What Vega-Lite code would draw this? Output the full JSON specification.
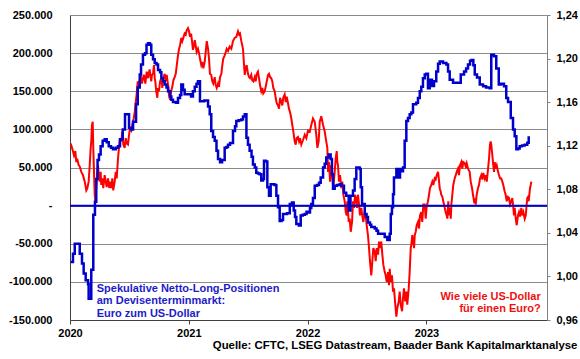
{
"$schema": "https://vega.github.io/schema/vega-lite/v6.json",
"width": 477, "height": 305,
"autosize": {"type": "none"},
"padding": {"left": 70, "top": 15, "right": 33, "bottom": 39},
"background": "white",
"config": {
 "locale": {"number": {"decimal": ",", "thousands": ".", "grouping": [3], "currency": ["", " €"], "minus": "-"}},
 "font": "Liberation Sans",
 "view": {"stroke": null},
 "axis": {"labelFont": "Liberation Sans", "labelFontWeight": "bold", "labelFontSize": 11, "labelColor": "#000000", "domainColor": "#555555", "tickColor": "#555555", "gridColor": "#8a8a8a", "gridWidth": 1}
},
"title": {"text": "Quelle: CFTC, LSEG Datastream, Baader Bank Kapitalmarktanalyse", "orient": "bottom", "anchor": "end", "frame": "bounds", "fontSize": 11.4, "fontWeight": "bold", "font": "Liberation Sans", "color": "#000000", "offset": 2},
"datasets": {
 "cot": [
{"year":2020.006,"netlong":-74000},{"year":2020.025,"netlong":-63000},{"year":2020.040,"netlong":-50000},{"year":2020.067,"netlong":-50000},{"year":2020.082,"netlong":-63000},{"year":2020.101,"netlong":-76000},{"year":2020.115,"netlong":-89000},{"year":2020.132,"netlong":-98000},{"year":2020.152,"netlong":-103000},{"year":2020.157,"netlong":-122000},{"year":2020.179,"netlong":-84000},{"year":2020.196,"netlong":-12000},{"year":2020.210,"netlong":5000},{"year":2020.221,"netlong":35000},{"year":2020.232,"netlong":60000},{"year":2020.244,"netlong":67000},{"year":2020.258,"netlong":78000},{"year":2020.275,"netlong":85000},{"year":2020.292,"netlong":87000},{"year":2020.309,"netlong":83000},{"year":2020.326,"netlong":78000},{"year":2020.345,"netlong":76000},{"year":2020.362,"netlong":74000},{"year":2020.385,"netlong":76000},{"year":2020.404,"netlong":78000},{"year":2020.421,"netlong":87000},{"year":2020.444,"netlong":100000},{"year":2020.463,"netlong":120000},{"year":2020.497,"netlong":102000},{"year":2020.514,"netlong":100000},{"year":2020.531,"netlong":110000},{"year":2020.556,"netlong":133000},{"year":2020.570,"netlong":155000},{"year":2020.587,"netlong":172000},{"year":2020.598,"netlong":185000},{"year":2020.614,"netlong":198000},{"year":2020.631,"netlong":200000},{"year":2020.644,"netlong":211000},{"year":2020.657,"netlong":213000},{"year":2020.673,"netlong":211000},{"year":2020.684,"netlong":198000},{"year":2020.699,"netlong":192000},{"year":2020.713,"netlong":187000},{"year":2020.728,"netlong":185000},{"year":2020.741,"netlong":178000},{"year":2020.758,"netlong":175000},{"year":2020.769,"netlong":167000},{"year":2020.783,"netlong":163000},{"year":2020.797,"netlong":159000},{"year":2020.812,"netlong":155000},{"year":2020.825,"netlong":150000},{"year":2020.842,"netlong":143000},{"year":2020.853,"netlong":139000},{"year":2020.867,"netlong":136000},{"year":2020.892,"netlong":135000},{"year":2020.909,"netlong":141000},{"year":2020.926,"netlong":145000},{"year":2020.937,"netlong":159000},{"year":2020.951,"netlong":152000},{"year":2020.965,"netlong":146000},{"year":2020.993,"netlong":146000},{"year":2021.019,"netlong":143000},{"year":2021.035,"netlong":150000},{"year":2021.050,"netlong":156000},{"year":2021.065,"netlong":160000},{"year":2021.077,"netlong":163000},{"year":2021.094,"netlong":137000},{"year":2021.114,"netlong":137000},{"year":2021.130,"netlong":138000},{"year":2021.162,"netlong":130000},{"year":2021.176,"netlong":120000},{"year":2021.189,"netlong":98000},{"year":2021.204,"netlong":90000},{"year":2021.218,"netlong":85000},{"year":2021.233,"netlong":72000},{"year":2021.246,"netlong":61000},{"year":2021.263,"netlong":57000},{"year":2021.280,"netlong":60000},{"year":2021.302,"netlong":76000},{"year":2021.317,"netlong":77000},{"year":2021.330,"netlong":80000},{"year":2021.347,"netlong":82000},{"year":2021.372,"netlong":98000},{"year":2021.389,"netlong":104000},{"year":2021.400,"netlong":111000},{"year":2021.419,"netlong":112000},{"year":2021.442,"netlong":113000},{"year":2021.456,"netlong":117000},{"year":2021.471,"netlong":120000},{"year":2021.485,"netlong":89000},{"year":2021.498,"netlong":80000},{"year":2021.512,"netlong":72000},{"year":2021.528,"netlong":64000},{"year":2021.540,"netlong":54000},{"year":2021.555,"netlong":50000},{"year":2021.568,"netlong":43000},{"year":2021.582,"netlong":42000},{"year":2021.596,"netlong":41000},{"year":2021.610,"netlong":33000},{"year":2021.624,"netlong":35000},{"year":2021.633,"netlong":59000},{"year":2021.647,"netlong":58000},{"year":2021.661,"netlong":24000},{"year":2021.675,"netlong":13000},{"year":2021.689,"netlong":28000},{"year":2021.705,"netlong":28000},{"year":2021.721,"netlong":27000},{"year":2021.737,"netlong":13000},{"year":2021.751,"netlong":-2000},{"year":2021.765,"netlong":-20000},{"year":2021.780,"netlong":-19000},{"year":2021.793,"netlong":-11000},{"year":2021.810,"netlong":-11000},{"year":2021.827,"netlong":-10000},{"year":2021.850,"netlong":2000},{"year":2021.869,"netlong":4000},{"year":2021.883,"netlong":-6500},{"year":2021.894,"netlong":-15000},{"year":2021.905,"netlong":-24000},{"year":2021.926,"netlong":-26000},{"year":2021.942,"netlong":-13000},{"year":2021.959,"netlong":-12000},{"year":2021.976,"netlong":-11000},{"year":2021.991,"netlong":-8000},{"year":2022.003,"netlong":-9000},{"year":2022.020,"netlong":-3000},{"year":2022.031,"netlong":2000},{"year":2022.045,"netlong":10000},{"year":2022.060,"netlong":26000},{"year":2022.079,"netlong":27000},{"year":2022.096,"netlong":30000},{"year":2022.110,"netlong":37000},{"year":2022.130,"netlong":50000},{"year":2022.144,"netlong":55000},{"year":2022.157,"netlong":63000},{"year":2022.178,"netlong":67000},{"year":2022.194,"netlong":61000},{"year":2022.205,"netlong":41000},{"year":2022.214,"netlong":22000},{"year":2022.228,"netlong":26000},{"year":2022.247,"netlong":27000},{"year":2022.270,"netlong":28000},{"year":2022.285,"netlong":26000},{"year":2022.306,"netlong":17000},{"year":2022.325,"netlong":13000},{"year":2022.346,"netlong":-6500},{"year":2022.361,"netlong":13000},{"year":2022.382,"netlong":20000},{"year":2022.396,"netlong":35000},{"year":2022.410,"netlong":50000},{"year":2022.424,"netlong":50000},{"year":2022.438,"netlong":48000},{"year":2022.447,"netlong":24000},{"year":2022.458,"netlong":2000},{"year":2022.481,"netlong":-11000},{"year":2022.496,"netlong":-15000},{"year":2022.508,"netlong":-22000},{"year":2022.525,"netlong":-25000},{"year":2022.536,"netlong":-28000},{"year":2022.551,"netlong":-28000},{"year":2022.565,"netlong":-30000},{"year":2022.580,"netlong":-33000},{"year":2022.593,"netlong":-37000},{"year":2022.618,"netlong":-37000},{"year":2022.649,"netlong":-41000},{"year":2022.671,"netlong":-45000},{"year":2022.691,"netlong":-37000},{"year":2022.700,"netlong":-11000},{"year":2022.710,"netlong":-2000},{"year":2022.719,"netlong":15000},{"year":2022.727,"netlong":37000},{"year":2022.747,"netlong":48000},{"year":2022.765,"netlong":37000},{"year":2022.778,"netlong":48000},{"year":2022.790,"netlong":45000},{"year":2022.803,"netlong":50000},{"year":2022.817,"netlong":85000},{"year":2022.831,"netlong":111000},{"year":2022.845,"netlong":115000},{"year":2022.859,"netlong":120000},{"year":2022.873,"netlong":122000},{"year":2022.887,"netlong":133000},{"year":2022.915,"netlong":135000},{"year":2022.929,"netlong":141000},{"year":2022.944,"netlong":150000},{"year":2022.957,"netlong":156000},{"year":2022.971,"netlong":167000},{"year":2022.986,"netlong":172000},{"year":2022.999,"netlong":173000},{"year":2023.013,"netlong":154000},{"year":2023.028,"netlong":165000},{"year":2023.047,"netlong":157000},{"year":2023.064,"netlong":163000},{"year":2023.083,"netlong":176000},{"year":2023.098,"netlong":186000},{"year":2023.112,"netlong":189000},{"year":2023.140,"netlong":187000},{"year":2023.168,"netlong":185000},{"year":2023.182,"netlong":176000},{"year":2023.196,"netlong":165000},{"year":2023.224,"netlong":161000},{"year":2023.275,"netlong":161000},{"year":2023.289,"netlong":172000},{"year":2023.317,"netlong":176000},{"year":2023.334,"netlong":180000},{"year":2023.350,"netlong":185000},{"year":2023.367,"netlong":190000},{"year":2023.381,"netlong":191000},{"year":2023.395,"netlong":184000},{"year":2023.407,"netlong":172000},{"year":2023.426,"netlong":168000},{"year":2023.449,"netlong":159000},{"year":2023.477,"netlong":156500},{"year":2023.502,"netlong":155000},{"year":2023.533,"netlong":154000},{"year":2023.546,"netlong":198000},{"year":2023.569,"netlong":196000},{"year":2023.588,"netlong":180000},{"year":2023.609,"netlong":159000},{"year":2023.628,"netlong":160000},{"year":2023.653,"netlong":156500},{"year":2023.672,"netlong":141000},{"year":2023.687,"netlong":136000},{"year":2023.710,"netlong":115000},{"year":2023.729,"netlong":100000},{"year":2023.743,"netlong":91000},{"year":2023.757,"netlong":74000},{"year":2023.771,"netlong":75000},{"year":2023.785,"netlong":78000},{"year":2023.805,"netlong":79000},{"year":2023.827,"netlong":80000},{"year":2023.849,"netlong":82600},{"year":2023.861,"netlong":91000}
 ],
 "fx": [
{"year":2020.006,"eurusd":1.122},{"year":2020.017,"eurusd":1.118},{"year":2020.025,"eurusd":1.115},{"year":2020.034,"eurusd":1.111},{"year":2020.045,"eurusd":1.115},{"year":2020.053,"eurusd":1.105},{"year":2020.061,"eurusd":1.108},{"year":2020.073,"eurusd":1.102},{"year":2020.082,"eurusd":1.101},{"year":2020.095,"eurusd":1.096},{"year":2020.109,"eurusd":1.093},{"year":2020.124,"eurusd":1.087},{"year":2020.137,"eurusd":1.079},{"year":2020.146,"eurusd":1.081},{"year":2020.157,"eurusd":1.087},{"year":2020.166,"eurusd":1.102},{"year":2020.174,"eurusd":1.118},{"year":2020.179,"eurusd":1.124},{"year":2020.185,"eurusd":1.139},{"year":2020.191,"eurusd":1.142},{"year":2020.196,"eurusd":1.118},{"year":2020.202,"eurusd":1.096},{"year":2020.208,"eurusd":1.075},{"year":2020.213,"eurusd":1.069},{"year":2020.221,"eurusd":1.081},{"year":2020.230,"eurusd":1.096},{"year":2020.236,"eurusd":1.102},{"year":2020.242,"eurusd":1.093},{"year":2020.250,"eurusd":1.087},{"year":2020.258,"eurusd":1.096},{"year":2020.263,"eurusd":1.084},{"year":2020.272,"eurusd":1.090},{"year":2020.280,"eurusd":1.081},{"year":2020.292,"eurusd":1.093},{"year":2020.301,"eurusd":1.087},{"year":2020.309,"eurusd":1.082},{"year":2020.320,"eurusd":1.090},{"year":2020.331,"eurusd":1.081},{"year":2020.339,"eurusd":1.087},{"year":2020.348,"eurusd":1.081},{"year":2020.356,"eurusd":1.090},{"year":2020.364,"eurusd":1.079},{"year":2020.376,"eurusd":1.087},{"year":2020.385,"eurusd":1.096},{"year":2020.393,"eurusd":1.090},{"year":2020.404,"eurusd":1.108},{"year":2020.412,"eurusd":1.118},{"year":2020.421,"eurusd":1.127},{"year":2020.432,"eurusd":1.124},{"year":2020.440,"eurusd":1.133},{"year":2020.449,"eurusd":1.121},{"year":2020.460,"eurusd":1.118},{"year":2020.469,"eurusd":1.127},{"year":2020.477,"eurusd":1.122},{"year":2020.488,"eurusd":1.121},{"year":2020.497,"eurusd":1.130},{"year":2020.505,"eurusd":1.136},{"year":2020.516,"eurusd":1.134},{"year":2020.524,"eurusd":1.139},{"year":2020.536,"eurusd":1.145},{"year":2020.545,"eurusd":1.151},{"year":2020.553,"eurusd":1.160},{"year":2020.561,"eurusd":1.167},{"year":2020.570,"eurusd":1.179},{"year":2020.578,"eurusd":1.176},{"year":2020.587,"eurusd":1.180},{"year":2020.595,"eurusd":1.185},{"year":2020.606,"eurusd":1.177},{"year":2020.614,"eurusd":1.182},{"year":2020.623,"eurusd":1.185},{"year":2020.634,"eurusd":1.177},{"year":2020.646,"eurusd":1.188},{"year":2020.657,"eurusd":1.182},{"year":2020.670,"eurusd":1.190},{"year":2020.684,"eurusd":1.179},{"year":2020.690,"eurusd":1.185},{"year":2020.699,"eurusd":1.186},{"year":2020.707,"eurusd":1.194},{"year":2020.713,"eurusd":1.182},{"year":2020.718,"eurusd":1.179},{"year":2020.726,"eurusd":1.170},{"year":2020.735,"eurusd":1.164},{"year":2020.741,"eurusd":1.173},{"year":2020.749,"eurusd":1.170},{"year":2020.758,"eurusd":1.179},{"year":2020.769,"eurusd":1.182},{"year":2020.777,"eurusd":1.173},{"year":2020.785,"eurusd":1.182},{"year":2020.797,"eurusd":1.186},{"year":2020.806,"eurusd":1.179},{"year":2020.814,"eurusd":1.185},{"year":2020.825,"eurusd":1.176},{"year":2020.833,"eurusd":1.167},{"year":2020.842,"eurusd":1.162},{"year":2020.853,"eurusd":1.171},{"year":2020.861,"eurusd":1.174},{"year":2020.870,"eurusd":1.180},{"year":2020.881,"eurusd":1.183},{"year":2020.890,"eurusd":1.186},{"year":2020.898,"eurusd":1.193},{"year":2020.909,"eurusd":1.203},{"year":2020.918,"eurusd":1.209},{"year":2020.926,"eurusd":1.212},{"year":2020.937,"eurusd":1.219},{"year":2020.945,"eurusd":1.216},{"year":2020.954,"eurusd":1.219},{"year":2020.965,"eurusd":1.223},{"year":2020.974,"eurusd":1.222},{"year":2020.982,"eurusd":1.226},{"year":2020.993,"eurusd":1.228},{"year":2021.002,"eurusd":1.225},{"year":2021.010,"eurusd":1.220},{"year":2021.019,"eurusd":1.223},{"year":2021.027,"eurusd":1.216},{"year":2021.035,"eurusd":1.208},{"year":2021.044,"eurusd":1.212},{"year":2021.050,"eurusd":1.217},{"year":2021.058,"eurusd":1.212},{"year":2021.066,"eurusd":1.206},{"year":2021.077,"eurusd":1.209},{"year":2021.086,"eurusd":1.205},{"year":2021.094,"eurusd":1.200},{"year":2021.105,"eurusd":1.194},{"year":2021.114,"eurusd":1.197},{"year":2021.122,"eurusd":1.191},{"year":2021.134,"eurusd":1.197},{"year":2021.142,"eurusd":1.206},{"year":2021.151,"eurusd":1.216},{"year":2021.162,"eurusd":1.209},{"year":2021.170,"eurusd":1.200},{"year":2021.178,"eurusd":1.186},{"year":2021.189,"eurusd":1.185},{"year":2021.198,"eurusd":1.179},{"year":2021.206,"eurusd":1.177},{"year":2021.218,"eurusd":1.183},{"year":2021.226,"eurusd":1.176},{"year":2021.235,"eurusd":1.173},{"year":2021.246,"eurusd":1.177},{"year":2021.254,"eurusd":1.174},{"year":2021.263,"eurusd":1.183},{"year":2021.274,"eurusd":1.186},{"year":2021.282,"eurusd":1.194},{"year":2021.290,"eurusd":1.200},{"year":2021.302,"eurusd":1.203},{"year":2021.311,"eurusd":1.206},{"year":2021.319,"eurusd":1.209},{"year":2021.330,"eurusd":1.207},{"year":2021.344,"eurusd":1.211},{"year":2021.358,"eurusd":1.209},{"year":2021.372,"eurusd":1.216},{"year":2021.386,"eurusd":1.219},{"year":2021.400,"eurusd":1.220},{"year":2021.414,"eurusd":1.225},{"year":2021.423,"eurusd":1.222},{"year":2021.431,"eurusd":1.223},{"year":2021.442,"eurusd":1.216},{"year":2021.456,"eurusd":1.209},{"year":2021.465,"eurusd":1.194},{"year":2021.471,"eurusd":1.185},{"year":2021.479,"eurusd":1.191},{"year":2021.487,"eurusd":1.194},{"year":2021.498,"eurusd":1.186},{"year":2021.507,"eurusd":1.183},{"year":2021.515,"eurusd":1.182},{"year":2021.526,"eurusd":1.185},{"year":2021.534,"eurusd":1.180},{"year":2021.543,"eurusd":1.179},{"year":2021.555,"eurusd":1.183},{"year":2021.563,"eurusd":1.179},{"year":2021.572,"eurusd":1.186},{"year":2021.582,"eurusd":1.188},{"year":2021.591,"eurusd":1.182},{"year":2021.599,"eurusd":1.176},{"year":2021.610,"eurusd":1.170},{"year":2021.619,"eurusd":1.173},{"year":2021.627,"eurusd":1.168},{"year":2021.639,"eurusd":1.170},{"year":2021.647,"eurusd":1.174},{"year":2021.656,"eurusd":1.179},{"year":2021.667,"eurusd":1.185},{"year":2021.675,"eurusd":1.186},{"year":2021.684,"eurusd":1.183},{"year":2021.694,"eurusd":1.182},{"year":2021.703,"eurusd":1.179},{"year":2021.711,"eurusd":1.173},{"year":2021.723,"eurusd":1.170},{"year":2021.731,"eurusd":1.164},{"year":2021.740,"eurusd":1.159},{"year":2021.751,"eurusd":1.157},{"year":2021.759,"eurusd":1.154},{"year":2021.768,"eurusd":1.164},{"year":2021.779,"eurusd":1.160},{"year":2021.787,"eurusd":1.157},{"year":2021.795,"eurusd":1.164},{"year":2021.807,"eurusd":1.167},{"year":2021.816,"eurusd":1.160},{"year":2021.824,"eurusd":1.165},{"year":2021.835,"eurusd":1.159},{"year":2021.843,"eurusd":1.154},{"year":2021.852,"eurusd":1.151},{"year":2021.863,"eurusd":1.145},{"year":2021.871,"eurusd":1.139},{"year":2021.880,"eurusd":1.133},{"year":2021.891,"eurusd":1.124},{"year":2021.900,"eurusd":1.121},{"year":2021.908,"eurusd":1.127},{"year":2021.919,"eurusd":1.128},{"year":2021.928,"eurusd":1.124},{"year":2021.936,"eurusd":1.127},{"year":2021.947,"eurusd":1.121},{"year":2021.961,"eurusd":1.125},{"year":2021.976,"eurusd":1.130},{"year":2021.989,"eurusd":1.127},{"year":2022.003,"eurusd":1.134},{"year":2022.018,"eurusd":1.133},{"year":2022.031,"eurusd":1.139},{"year":2022.045,"eurusd":1.145},{"year":2022.060,"eurusd":1.142},{"year":2022.073,"eurusd":1.130},{"year":2022.082,"eurusd":1.118},{"year":2022.093,"eurusd":1.124},{"year":2022.102,"eurusd":1.142},{"year":2022.115,"eurusd":1.147},{"year":2022.130,"eurusd":1.139},{"year":2022.144,"eurusd":1.133},{"year":2022.157,"eurusd":1.124},{"year":2022.166,"eurusd":1.118},{"year":2022.172,"eurusd":1.096},{"year":2022.180,"eurusd":1.105},{"year":2022.189,"eurusd":1.087},{"year":2022.199,"eurusd":1.102},{"year":2022.208,"eurusd":1.093},{"year":2022.216,"eurusd":1.081},{"year":2022.228,"eurusd":1.096},{"year":2022.236,"eurusd":1.108},{"year":2022.245,"eurusd":1.115},{"year":2022.250,"eurusd":1.105},{"year":2022.256,"eurusd":1.102},{"year":2022.264,"eurusd":1.087},{"year":2022.273,"eurusd":1.093},{"year":2022.284,"eurusd":1.081},{"year":2022.292,"eurusd":1.087},{"year":2022.301,"eurusd":1.075},{"year":2022.312,"eurusd":1.069},{"year":2022.321,"eurusd":1.059},{"year":2022.329,"eurusd":1.056},{"year":2022.334,"eurusd":1.069},{"year":2022.346,"eurusd":1.050},{"year":2022.354,"eurusd":1.053},{"year":2022.363,"eurusd":1.041},{"year":2022.374,"eurusd":1.050},{"year":2022.382,"eurusd":1.069},{"year":2022.391,"eurusd":1.063},{"year":2022.399,"eurusd":1.075},{"year":2022.407,"eurusd":1.072},{"year":2022.416,"eurusd":1.063},{"year":2022.424,"eurusd":1.075},{"year":2022.433,"eurusd":1.066},{"year":2022.441,"eurusd":1.056},{"year":2022.452,"eurusd":1.063},{"year":2022.460,"eurusd":1.056},{"year":2022.469,"eurusd":1.050},{"year":2022.481,"eurusd":1.059},{"year":2022.489,"eurusd":1.056},{"year":2022.497,"eurusd":1.047},{"year":2022.508,"eurusd":1.038},{"year":2022.517,"eurusd":1.026},{"year":2022.525,"eurusd":1.014},{"year":2022.536,"eurusd":1.001},{"year":2022.545,"eurusd":1.014},{"year":2022.553,"eurusd":1.026},{"year":2022.565,"eurusd":1.023},{"year":2022.573,"eurusd":1.014},{"year":2022.582,"eurusd":1.026},{"year":2022.593,"eurusd":1.020},{"year":2022.601,"eurusd":1.032},{"year":2022.609,"eurusd":1.026},{"year":2022.620,"eurusd":1.032},{"year":2022.629,"eurusd":1.020},{"year":2022.637,"eurusd":1.011},{"year":2022.649,"eurusd":1.004},{"year":2022.657,"eurusd":1.001},{"year":2022.666,"eurusd":0.995},{"year":2022.677,"eurusd":1.004},{"year":2022.685,"eurusd":0.992},{"year":2022.691,"eurusd":1.007},{"year":2022.700,"eurusd":0.995},{"year":2022.710,"eurusd":1.001},{"year":2022.719,"eurusd":0.986},{"year":2022.727,"eurusd":0.989},{"year":2022.738,"eurusd":0.974},{"year":2022.747,"eurusd":0.963},{"year":2022.755,"eurusd":0.971},{"year":2022.767,"eurusd":0.977},{"year":2022.775,"eurusd":0.986},{"year":2022.784,"eurusd":0.974},{"year":2022.795,"eurusd":0.968},{"year":2022.803,"eurusd":0.980},{"year":2022.811,"eurusd":0.989},{"year":2022.822,"eurusd":0.977},{"year":2022.831,"eurusd":0.986},{"year":2022.839,"eurusd":0.974},{"year":2022.851,"eurusd":0.989},{"year":2022.859,"eurusd":1.004},{"year":2022.868,"eurusd":1.026},{"year":2022.873,"eurusd":1.029},{"year":2022.881,"eurusd":1.038},{"year":2022.890,"eurusd":1.032},{"year":2022.896,"eurusd":1.026},{"year":2022.902,"eurusd":1.038},{"year":2022.910,"eurusd":1.041},{"year":2022.918,"eurusd":1.047},{"year":2022.929,"eurusd":1.050},{"year":2022.938,"eurusd":1.044},{"year":2022.946,"eurusd":1.056},{"year":2022.957,"eurusd":1.059},{"year":2022.965,"eurusd":1.050},{"year":2022.974,"eurusd":1.066},{"year":2022.986,"eurusd":1.066},{"year":2022.994,"eurusd":1.053},{"year":2023.002,"eurusd":1.064},{"year":2023.013,"eurusd":1.069},{"year":2023.022,"eurusd":1.075},{"year":2023.030,"eurusd":1.081},{"year":2023.041,"eurusd":1.084},{"year":2023.050,"eurusd":1.087},{"year":2023.058,"eurusd":1.084},{"year":2023.070,"eurusd":1.090},{"year":2023.078,"eurusd":1.089},{"year":2023.087,"eurusd":1.093},{"year":2023.098,"eurusd":1.096},{"year":2023.104,"eurusd":1.090},{"year":2023.112,"eurusd":1.081},{"year":2023.120,"eurusd":1.078},{"year":2023.125,"eurusd":1.075},{"year":2023.134,"eurusd":1.073},{"year":2023.142,"eurusd":1.069},{"year":2023.154,"eurusd":1.063},{"year":2023.162,"eurusd":1.059},{"year":2023.171,"eurusd":1.056},{"year":2023.176,"eurusd":1.053},{"year":2023.184,"eurusd":1.069},{"year":2023.190,"eurusd":1.056},{"year":2023.199,"eurusd":1.063},{"year":2023.205,"eurusd":1.053},{"year":2023.210,"eurusd":1.066},{"year":2023.218,"eurusd":1.075},{"year":2023.226,"eurusd":1.084},{"year":2023.238,"eurusd":1.090},{"year":2023.247,"eurusd":1.093},{"year":2023.255,"eurusd":1.096},{"year":2023.266,"eurusd":1.099},{"year":2023.274,"eurusd":1.093},{"year":2023.283,"eurusd":1.102},{"year":2023.294,"eurusd":1.105},{"year":2023.302,"eurusd":1.099},{"year":2023.310,"eurusd":1.105},{"year":2023.322,"eurusd":1.104},{"year":2023.331,"eurusd":1.101},{"year":2023.339,"eurusd":1.104},{"year":2023.350,"eurusd":1.099},{"year":2023.364,"eurusd":1.096},{"year":2023.373,"eurusd":1.087},{"year":2023.384,"eurusd":1.081},{"year":2023.392,"eurusd":1.075},{"year":2023.401,"eurusd":1.069},{"year":2023.407,"eurusd":1.070},{"year":2023.415,"eurusd":1.066},{"year":2023.423,"eurusd":1.075},{"year":2023.434,"eurusd":1.081},{"year":2023.443,"eurusd":1.084},{"year":2023.451,"eurusd":1.090},{"year":2023.462,"eurusd":1.093},{"year":2023.471,"eurusd":1.089},{"year":2023.479,"eurusd":1.095},{"year":2023.491,"eurusd":1.090},{"year":2023.499,"eurusd":1.093},{"year":2023.508,"eurusd":1.087},{"year":2023.519,"eurusd":1.099},{"year":2023.527,"eurusd":1.108},{"year":2023.535,"eurusd":1.121},{"year":2023.541,"eurusd":1.124},{"year":2023.546,"eurusd":1.121},{"year":2023.555,"eurusd":1.111},{"year":2023.563,"eurusd":1.102},{"year":2023.569,"eurusd":1.096},{"year":2023.575,"eurusd":1.105},{"year":2023.583,"eurusd":1.099},{"year":2023.592,"eurusd":1.102},{"year":2023.603,"eurusd":1.096},{"year":2023.611,"eurusd":1.093},{"year":2023.620,"eurusd":1.090},{"year":2023.630,"eurusd":1.090},{"year":2023.639,"eurusd":1.087},{"year":2023.647,"eurusd":1.084},{"year":2023.659,"eurusd":1.078},{"year":2023.667,"eurusd":1.075},{"year":2023.676,"eurusd":1.069},{"year":2023.687,"eurusd":1.073},{"year":2023.695,"eurusd":1.072},{"year":2023.704,"eurusd":1.066},{"year":2023.715,"eurusd":1.069},{"year":2023.723,"eurusd":1.072},{"year":2023.732,"eurusd":1.063},{"year":2023.737,"eurusd":1.056},{"year":2023.743,"eurusd":1.063},{"year":2023.752,"eurusd":1.053},{"year":2023.760,"eurusd":1.047},{"year":2023.771,"eurusd":1.056},{"year":2023.779,"eurusd":1.059},{"year":2023.788,"eurusd":1.055},{"year":2023.799,"eurusd":1.063},{"year":2023.807,"eurusd":1.056},{"year":2023.816,"eurusd":1.059},{"year":2023.827,"eurusd":1.053},{"year":2023.836,"eurusd":1.056},{"year":2023.844,"eurusd":1.066},{"year":2023.849,"eurusd":1.072},{"year":2023.855,"eurusd":1.073},{"year":2023.861,"eurusd":1.069},{"year":2023.872,"eurusd":1.081},{"year":2023.878,"eurusd":1.084},{"year":2023.883,"eurusd":1.087}
 ]
},
"layer": [
 {
  "layer": [
   {
    "data": {"name": "fx"},
    "mark": {"type": "line", "color": "#ff0000", "strokeWidth": 2, "interpolate": "linear"},
    "encoding": {
     "x": {"field": "year", "type": "quantitative", "scale": {"domain": [2020, 2024.015], "nice": false, "zero": false}, "axis": {"values": [2020, 2021, 2022, 2023], "tickCount": 20, "format": "d", "grid": false, "tickSize": 4, "labelPadding": 3, "labelFlush": false, "domainColor": "#404040", "tickColor": "#404040", "title": null}},
     "y": {"field": "eurusd", "type": "quantitative", "scale": {"domain": [0.96, 1.24], "nice": false, "zero": false}, "axis": {"orient": "right", "values": [0.96, 1.0, 1.04, 1.08, 1.12, 1.16, 1.2, 1.24], "tickCount": 20, "format": ".2f", "grid": false, "tickSize": 3, "labelPadding": 6, "labelOverlap": false, "title": null, "domainColor": "#808080", "tickColor": "#808080"}}
    }
   },
   {
    "data": {"values": [{}]},
    "mark": {"type": "text", "text": ["Wie viele US-Dollar", "für einen Euro?"], "align": "right", "baseline": "alphabetic", "lineHeight": 12, "font": "Liberation Sans", "fontWeight": "bold", "fontSize": 11, "color": "#ee1111"},
    "encoding": {"x": {"datum": 2023.962}, "y": {"datum": 0.9784}}
   }
  ]
 },
 {
  "layer": [
   {
    "data": {"name": "cot"},
    "mark": {"type": "line", "color": "#0000cc", "strokeWidth": 2.5, "interpolate": "step-after"},
    "encoding": {
     "x": {"field": "year", "type": "quantitative", "scale": {"domain": [2020, 2024.015], "nice": false, "zero": false}},
     "y": {"field": "netlong", "type": "quantitative", "scale": {"domain": [-150000, 250000], "nice": false}, "axis": {"orient": "left", "values": [-150000, -100000, -50000, 0, 50000, 100000, 150000, 200000, 250000], "tickCount": 20, "format": ",d", "labelExpr": "datum.value == 0 ? '-\u00a0\u00a0' : datum.label", "labelOverlap": false, "ticks": false, "labelPadding": 18, "grid": true, "title": null, "domainColor": "#404040"}}
    }
   },
   {
    "data": {"values": [{}]},
    "mark": {"type": "rule", "color": "#0000cc", "strokeWidth": 2},
    "encoding": {"y": {"datum": 0}}
   },
   {
    "data": {"values": [{}]},
    "mark": {"type": "text", "text": ["Spekulative Netto-Long-Positionen", "am Devisenterminmarkt:", "Euro zum US-Dollar"], "align": "left", "baseline": "alphabetic", "lineHeight": 12.6, "font": "Liberation Sans", "fontWeight": "bold", "fontSize": 11, "color": "#1c1cc8"},
    "encoding": {"x": {"datum": 2020.225}, "y": {"datum": -113000}}
   }
  ]
 }
],
"resolve": {"scale": {"y": "independent"}}
}
